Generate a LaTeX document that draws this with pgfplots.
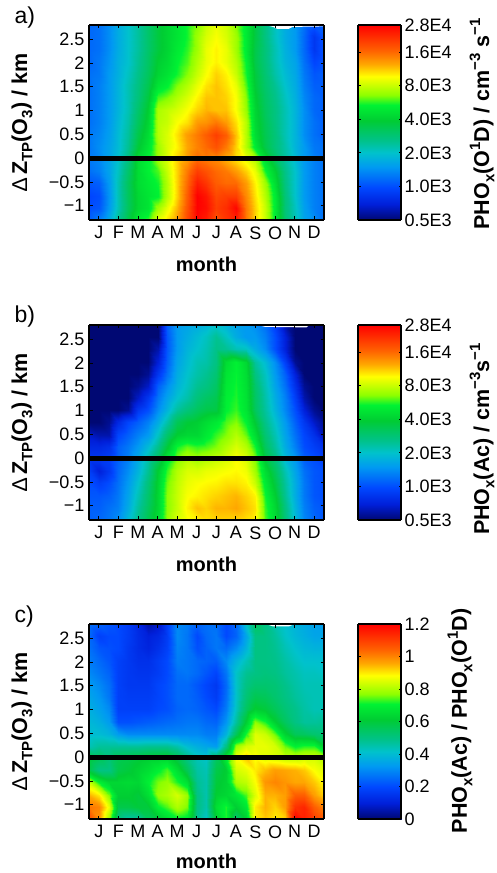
\documentclass[border=0pt]{standalone}
\usepackage{fontspec}
\setmainfont{Liberation Sans}
\usepackage{pgfplots}
\usepackage{pgfplotstable}
\pgfplotsset{compat=1.18}
% each line: one height (from -1.3 to 2.8 km), 25 values from x=0 to x=12 months, in 1E3 cm-3 s-1 (a, b) or as ratio (c)
\pgfplotstableread[row sep=\\]{
v\\
1.1\\1.3\\1.7\\2.5\\3.5\\5\\5.8\\9\\10.5\\13\\19\\27\\24\\18\\21\\24\\15\\11\\8\\5\\2.9\\2.2\\1.6\\1.4\\1.2\\
1\\1.05\\1.5\\2.2\\3.2\\4.3\\4.8\\7\\9\\12\\18\\28\\26\\20\\22\\27\\15\\11\\8\\5\\2.8\\2.1\\1.55\\1.3\\1.2\\
.95\\1\\1.45\\2.2\\3.2\\4.3\\4.8\\5.3\\7.5\\11\\17\\28\\25\\19\\20\\20\\14\\10.5\\7.5\\5\\2.8\\2\\1.5\\1.3\\1.2\\
1.05\\1.1\\1.5\\2.2\\3.2\\4.5\\5\\5.5\\7.5\\11\\16\\24\\21\\17\\16\\16\\13\\10\\7\\4.5\\2.7\\2\\1.5\\1.3\\1.2\\
1.2\\1.3\\1.6\\2.1\\3\\4.5\\5.3\\6\\8\\11\\15\\20\\18\\16\\15\\13\\11\\9\\5.5\\4\\2.6\\2\\1.5\\1.3\\1.2\\
1.25\\1.35\\1.6\\2\\2.7\\4.5\\5.3\\7\\8.5\\11\\13\\16\\15\\14\\12\\10.5\\9\\7.5\\4.5\\3.2\\2.4\\1.9\\1.5\\1.3\\1.2\\
1.25\\1.4\\1.6\\1.9\\2.5\\3.8\\4.8\\7\\8.5\\10\\12.5\\14.5\\16\\18\\15\\11\\7.5\\5\\3.5\\2.8\\2.3\\1.8\\1.5\\1.25\\1.2\\
1.25\\1.35\\1.55\\1.9\\2.4\\3.5\\4.5\\7.5\\8.5\\10.5\\13\\15\\17\\20\\17\\11.5\\7.5\\4.5\\3.4\\2.8\\2.2\\1.8\\1.4\\1.2\\1.1\\
1.2\\1.3\\1.5\\1.85\\2.3\\3.2\\4.2\\7.5\\8\\9.5\\10.5\\13\\13.5\\15\\13\\10.5\\7.5\\4.3\\3.3\\2.7\\2.2\\1.8\\1.4\\1.2\\1.1\\
1.2\\1.3\\1.5\\1.8\\2.2\\3\\4\\7.3\\7.8\\8.5\\9.5\\11\\12\\11.5\\11.5\\9.5\\6.8\\4.2\\3.2\\2.7\\2.2\\1.8\\1.4\\1.15\\1.1\\
1.2\\1.3\\1.5\\1.8\\2.2\\2.8\\3.7\\6\\6.5\\7.5\\8.5\\10\\11.5\\11.5\\11\\9.5\\6.5\\4\\3.1\\2.6\\2.1\\1.75\\1.35\\1.15\\1.1\\
1.2\\1.3\\1.5\\1.8\\2.2\\2.7\\3.4\\4.8\\5.3\\6.5\\7.5\\9\\10.5\\11.5\\10.5\\9\\6\\3.8\\3\\2.5\\2\\1.7\\1.3\\1.1\\1.1\\
1.2\\1.25\\1.5\\1.75\\2.1\\2.6\\3.2\\4.2\\4.7\\5.5\\6.5\\8\\9.5\\11\\10\\8\\5.5\\3.7\\2.9\\2.3\\1.9\\1.65\\1.25\\1.05\\1.1\\
1.15\\1.25\\1.45\\1.75\\2\\2.5\\3.1\\4\\4.4\\5.3\\6\\7.5\\9\\10\\9\\7.5\\5.3\\3.5\\2.8\\2.2\\1.8\\1.6\\1.2\\.95\\1.05\\
1.15\\1.2\\1.4\\1.7\\2\\2.4\\3\\3.7\\4.2\\5\\5.7\\7\\9\\10\\9\\7\\5\\3.5\\2.8\\2.2\\1.75\\1.5\\1.15\\.85\\1.05\\
1.15\\1.2\\1.4\\1.7\\2\\2.4\\3\\3.7\\4.2\\4.8\\5.5\\7\\8.5\\9.5\\8.5\\7\\5\\3.6\\2.7\\2.1\\1.7\\1.5\\1.15\\.85\\1.05\\
1.15\\1.2\\1.4\\1.7\\2\\2.4\\3\\3.7\\4.2\\4.8\\5.5\\6.5\\8\\9\\8.2\\6.5\\5\\3.6\\2.7\\2.1\\1.7\\1.5\\1.2\\1.05\\1.1\\
}\tabA
\pgfplotstableread[row sep=\\]{
v\\
1.1\\1.15\\1.25\\1.4\\1.9\\2.6\\3.4\\4.5\\6.8\\8.5\\9.5\\10\\10.5\\11\\11\\11\\10.5\\10\\6\\4.5\\2.8\\1.9\\1.35\\1.15\\1.05\\
1.1\\1.1\\1.2\\1.3\\1.7\\2.4\\3.2\\4.3\\6.6\\8\\10\\11.5\\11\\12\\12\\12.5\\11.5\\10.5\\5.8\\4.3\\2.7\\1.8\\1.3\\1.1\\1.05\\
1.05\\1.05\\1.1\\1.25\\1.6\\2.2\\3\\4.3\\6.6\\8\\9.5\\10\\10.5\\11\\11.5\\12\\11\\10\\5.5\\4\\2.5\\1.7\\1.25\\1.05\\1\\
1\\.9\\1\\1.2\\1.5\\2\\2.8\\4.2\\6.3\\7.8\\9\\9.5\\9.8\\10\\10.5\\10.5\\10\\8\\5\\3.6\\2.4\\1.7\\1.25\\1.05\\1\\
.9\\.7\\.85\\1.15\\1.4\\1.8\\2.5\\4\\5.8\\7.5\\8.5\\8.5\\9\\9.2\\9.5\\9.8\\9.2\\7\\4.5\\3.2\\2.2\\1.6\\1.2\\1.05\\1\\
.85\\.85\\.9\\1.1\\1.3\\1.7\\2.3\\3.2\\5\\6.5\\7.5\\7\\7.5\\8\\8.5\\9.5\\8.5\\6.5\\3.7\\2.8\\1.9\\1.5\\1.1\\1\\.9\\
.75\\.75\\.8\\1.1\\1.25\\1.5\\1.9\\2.6\\3.8\\5.5\\6.2\\5.8\\6\\6.5\\7.5\\8.5\\7.5\\5.5\\3.2\\2.4\\1.7\\1.3\\1\\.9\\.8\\
.65\\.6\\.6\\.95\\1.1\\1.3\\1.5\\2.1\\3\\4\\4.3\\4.3\\5\\5.8\\6.5\\7.5\\6.2\\4.5\\2.9\\2.2\\1.6\\1.2\\.95\\.8\\.6\\
.5\\.5\\.55\\.75\\.95\\1.1\\1.3\\1.7\\2.3\\3.3\\3.8\\4\\4.5\\5\\6\\6.5\\5.3\\3.8\\2.6\\2\\1.5\\1.1\\.85\\.65\\.55\\
.5\\.5\\.5\\.5\\.55\\.85\\1\\1.4\\1.8\\2.4\\2.8\\3.2\\3.5\\3.6\\5.3\\5.8\\4.8\\3.2\\2.4\\1.8\\1.35\\1\\.7\\.55\\.5\\
.5\\.5\\.5\\.5\\.5\\.65\\.85\\1.25\\1.6\\2\\2.3\\2.8\\3.1\\3.4\\5.2\\5.6\\4.7\\3.1\\2.3\\1.7\\1.3\\.9\\.6\\.5\\.5\\
.5\\.5\\.5\\.5\\.5\\.55\\.65\\1.1\\1.4\\1.8\\2.1\\2.5\\2.7\\3.1\\5\\5.5\\4.6\\3\\2.2\\1.6\\1.2\\.8\\.55\\.5\\.5\\
.5\\.5\\.5\\.5\\.5\\.5\\.55\\.85\\1.2\\1.7\\2\\2.3\\2.5\\2.9\\4.8\\5.4\\4.5\\2.7\\2.1\\1.5\\1.1\\.7\\.5\\.5\\.5\\
.5\\.5\\.5\\.5\\.5\\.5\\.5\\.7\\1.1\\1.6\\1.9\\2.2\\2.3\\2.7\\4.5\\5.3\\4.3\\2.4\\1.9\\1.4\\.9\\.55\\.5\\.5\\.5\\
.5\\.5\\.5\\.5\\.5\\.5\\.5\\.6\\1.05\\1.5\\1.8\\2\\2.2\\2.6\\2.5\\2.2\\2.1\\1.7\\1.4\\1\\.7\\.5\\.5\\.5\\.5\\
.5\\.5\\.5\\.5\\.5\\.5\\.5\\.5\\1.05\\1.5\\1.7\\1.9\\2.1\\2.5\\2.1\\1.7\\1.5\\1.5\\1.3\\1\\.7\\.5\\.5\\.5\\.5\\
.5\\.5\\.5\\.5\\.5\\.5\\.5\\.5\\1.1\\1.5\\1.6\\1.7\\1.8\\2\\1.8\\1.6\\1.5\\1.4\\1.2\\.9\\.6\\.5\\.5\\.5\\.5\\
}\tabB
\pgfplotstableread[row sep=\\]{
v\\
1.08\\.98\\.78\\.5\\.45\\.46\\.55\\.6\\.65\\.7\\.68\\.48\\.42\\.62\\.72\\.52\\.62\\.9\\.93\\.9\\.92\\1.2\\1.15\\1.1\\1.05\\
1.02\\1\\.86\\.58\\.58\\.6\\.6\\.7\\.74\\.8\\.76\\.5\\.45\\.66\\.72\\.62\\.68\\.9\\.95\\.92\\.97\\1.12\\1.14\\1.05\\1\\
.95\\.9\\.76\\.62\\.62\\.6\\.66\\.78\\.8\\.84\\.78\\.5\\.45\\.62\\.64\\.68\\.74\\.85\\.95\\.95\\.97\\1.05\\1.05\\.97\\.92\\
.82\\.7\\.64\\.64\\.65\\.64\\.7\\.76\\.78\\.72\\.66\\.48\\.45\\.6\\.63\\.8\\.82\\.88\\.98\\1\\.98\\.96\\.96\\.93\\.88\\
.58\\.5\\.5\\.58\\.6\\.63\\.66\\.7\\.74\\.66\\.56\\.46\\.44\\.58\\.62\\.84\\.86\\.9\\.94\\.97\\.96\\.95\\.93\\.88\\.85\\
.6\\.56\\.52\\.57\\.58\\.6\\.62\\.63\\.64\\.58\\.5\\.44\\.42\\.55\\.7\\.88\\.93\\.88\\.85\\.84\\.82\\.82\\.84\\.84\\.8\\
.44\\.47\\.47\\.47\\.47\\.47\\.48\\.48\\.48\\.45\\.4\\.37\\.35\\.33\\.5\\.78\\.84\\.86\\.86\\.84\\.75\\.7\\.72\\.72\\.62\\
.4\\.4\\.38\\.33\\.3\\.3\\.3\\.3\\.3\\.3\\.3\\.3\\.28\\.28\\.38\\.56\\.72\\.85\\.83\\.75\\.63\\.56\\.55\\.53\\.52\\
.39\\.37\\.33\\.21\\.21\\.22\\.23\\.24\\.25\\.26\\.27\\.27\\.25\\.24\\.32\\.47\\.62\\.77\\.72\\.62\\.55\\.5\\.47\\.47\\.48\\
.37\\.34\\.3\\.18\\.18\\.18\\.18\\.2\\.21\\.24\\.25\\.24\\.22\\.2\\.28\\.43\\.55\\.62\\.6\\.56\\.52\\.49\\.46\\.44\\.44\\
.35\\.32\\.27\\.18\\.17\\.17\\.17\\.19\\.21\\.25\\.25\\.23\\.2\\.17\\.26\\.42\\.52\\.57\\.56\\.53\\.5\\.47\\.45\\.44\\.44\\
.33\\.3\\.26\\.18\\.16\\.16\\.16\\.19\\.21\\.25\\.25\\.22\\.19\\.16\\.25\\.42\\.5\\.53\\.53\\.52\\.49\\.46\\.44\\.44\\.44\\
.3\\.27\\.24\\.18\\.16\\.15\\.15\\.17\\.2\\.26\\.27\\.25\\.22\\.19\\.27\\.42\\.48\\.5\\.51\\.5\\.47\\.45\\.43\\.43\\.42\\
.28\\.25\\.22\\.18\\.16\\.14\\.14\\.17\\.2\\.28\\.27\\.25\\.24\\.23\\.3\\.38\\.44\\.5\\.5\\.49\\.46\\.43\\.41\\.41\\.41\\
.26\\.22\\.21\\.2\\.16\\.13\\.11\\.14\\.18\\.29\\.27\\.21\\.24\\.27\\.25\\.3\\.38\\.5\\.5\\.48\\.44\\.41\\.39\\.38\\.38\\
.25\\.18\\.2\\.2\\.17\\.13\\.1\\.12\\.17\\.3\\.27\\.2\\.25\\.27\\.2\\.24\\.35\\.5\\.5\\.47\\.42\\.39\\.37\\.35\\.35\\
.26\\.24\\.22\\.2\\.17\\.12\\.05\\.08\\.18\\.3\\.28\\.24\\.26\\.26\\.2\\.25\\.42\\.55\\.5\\.45\\.41\\.38\\.36\\.34\\.33\\
}\tabC
\newcommand{\addxy}[1]{%
 \pgfplotstablecreatecol[create col/expr={mod(\pgfplotstablerow,25)*0.5}]{x}{#1}%
 \pgfplotstablecreatecol[create col/expr={-1.3+floor((\pgfplotstablerow+0.5)/25)*0.25625}]{y}{#1}}
\addxy{\tabA}\addxy{\tabB}\addxy{\tabC}
\newcommand{\tickf}{\fontsize{18}{20}\selectfont}
\newcommand{\labf}{\fontsize{20}{22}\selectfont\bfseries}
\newcommand{\ylabf}{\fontsize{21.5}{24}\selectfont\bfseries}
\newcommand{\cbf}{\fontsize{21.5}{24}\selectfont\bfseries}
\newcommand{\sbs}[1]{\raisebox{-0.25em}{\fontsize{15}{16}\selectfont #1}}
\newcommand{\sps}[1]{\raisebox{0.42em}{\fontsize{15}{16}\selectfont #1}}
\newcommand{\zlabel}{{\mdseries\char"2206}\,Z\sbs{TP}(O\sbs{3}) / km}
\pgfplotsset{
 colormap={phox}{rgb(0pt)=(0,0.03,0.45); rgb(80pt)=(0,0.12,0.85); rgb(165pt)=(0,0.28,1); rgb(270pt)=(0,0.6,0.95); rgb(345pt)=(0,0.76,0.8); rgb(405pt)=(0,0.76,0.55); rgb(510pt)=(0,0.8,0.2); rgb(590pt)=(0,0.95,0.2); rgb(640pt)=(0.55,1,0); rgb(736pt)=(1,1,0); rgb(800pt)=(1,0.65,0); rgb(870pt)=(1,0.38,0); rgb(1000pt)=(1,0,0)},
 panel/.style={
  scale only axis, width=235pt, height=195pt, view={0}{90},
  xmin=0, xmax=12, ymin=-1.3, ymax=2.8,
  axis on top, tick align=inside, major tick length=3.5pt,
  axis line style={line width=1.3pt}, tick style={line width=0.8pt,black},
  xtick={.5,1.5,2.5,3.5,4.5,5.5,6.5,7.5,8.5,9.5,10.5,11.5},
  xticklabels={J,F,M,A,M,J,J,A,S,O,N,D},
  ytick={-1,-.5,0,.5,1,1.5,2,2.5},
  yticklabels={−1,−0.5,0,0.5,1,1.5,2,2.5},
  tick label style={font=\tickf},
  xticklabel style={yshift=-3pt}, yticklabel style={xshift=-1pt},
  xlabel={month}, xlabel style={font=\labf, at={(axis description cs:0.5,#1)}, anchor=center},
  ylabel={\zlabel}, ylabel style={font=\ylabf, at={(axis description cs:-0.285,0.5)}, anchor=center},
  colormap name=phox,
 },
 cbar/.style={
  scale only axis, width=43pt, height=195pt, view={0}{90},
  xmin=0, xmax=1, xtick=\empty, axis on top, colormap name=phox,
  tick align=inside, major tick length=2.5pt,
  axis line style={line width=1.1pt}, tick style={line width=0.8pt,black},
  ytick pos=both, yticklabel pos=right, tick label style={font=\tickf},
 },
 map/.style={surf, shader=interp, mesh/cols=25},
}
\begin{document}
\begin{tikzpicture}
\path[use as bounding box] (0,0) rectangle (496pt,873pt);
\begin{axis}[panel=-0.23, at={(89pt,653pt)}, anchor=south west, point meta min=0, point meta max=5.807]
\addplot3[map, point meta={ln(\thisrow{v}/0.5)/ln(2)}] table[x=x,y=y,z=v]{\tabA};
\fill[white] (axis cs:9,2.8,30) -- (axis cs:9.4,2.76,30) -- (axis cs:9.6,2.72,30) -- (axis cs:10.2,2.72,30) -- (axis cs:10.4,2.76,30) -- (axis cs:12,2.77,30) -- (axis cs:12,2.8,30) -- cycle;
\addplot3[black, line width=5pt] coordinates {(0,0,30) (12,0,30)};
\end{axis}
\begin{axis}[cbar, at={(358pt,653pt)}, anchor=south west, ymin=0, ymax=5.807, point meta min=0, point meta max=5.807,
  ytick={0,1,2,3,4,5,5.807}, yticklabels={0.5E3,1.0E3,2.0E3,4.0E3,8.0E3,1.6E4,2.8E4}]
\addplot3[surf, shader=interp, mesh/cols=2, point meta=y] coordinates {(0,0,0) (1,0,0) (0,5.807,0) (1,5.807,0)};
\end{axis}
\begin{axis}[panel=-0.23, at={(89pt,353pt)}, anchor=south west, point meta min=0, point meta max=5.807]
\addplot3[map, point meta={ln(\thisrow{v}/0.5)/ln(2)}] table[x=x,y=y,z=v]{\tabB};
\fill[white] (axis cs:8.6,2.8,30) -- (axis cs:9,2.76,30) -- (axis cs:11.1,2.75,30) -- (axis cs:11.2,2.78,30) -- (axis cs:12,2.78,30) -- (axis cs:12,2.8,30) -- cycle;
\addplot3[black, line width=5pt] coordinates {(0,0,30) (12,0,30)};
\end{axis}
\begin{axis}[cbar, at={(358pt,353pt)}, anchor=south west, ymin=0, ymax=5.807, point meta min=0, point meta max=5.807,
  ytick={0,1,2,3,4,5,5.807}, yticklabels={0.5E3,1.0E3,2.0E3,4.0E3,8.0E3,1.6E4,2.8E4}]
\addplot3[surf, shader=interp, mesh/cols=2, point meta=y] coordinates {(0,0,0) (1,0,0) (0,5.807,0) (1,5.807,0)};
\end{axis}
\begin{axis}[panel=-0.215, at={(89pt,54pt)}, anchor=south west, point meta min=0, point meta max=1.2]
\addplot3[map] table[x=x,y=y,z=v]{\tabC};
\fill[white] (axis cs:9,2.8,30) -- (axis cs:9.4,2.75,30) -- (axis cs:10.2,2.75,30) -- (axis cs:10.4,2.78,30) -- (axis cs:12,2.78,30) -- (axis cs:12,2.8,30) -- cycle;
\addplot3[black, line width=5pt] coordinates {(0,0,30) (12,0,30)};
\end{axis}
\begin{axis}[cbar, at={(358pt,54pt)}, anchor=south west, ymin=0, ymax=1.2, point meta min=0, point meta max=1.2,
  ytick={0,.2,.4,.6,.8,1,1.2}, yticklabels={0,0.2,0.4,0.6,0.8,1,1.2}]
\addplot3[surf, shader=interp, mesh/cols=2, point meta=y] coordinates {(0,0,0) (1,0,0) (0,1.2,0) (1,1.2,0)};
\end{axis}
\node[anchor=west, font=\fontsize{23}{25}\selectfont] at (11pt,855pt) {a)};
\node[anchor=west, font=\fontsize{23}{25}\selectfont] at (11pt,556pt) {b)};
\node[anchor=west, font=\fontsize{23}{25}\selectfont] at (11pt,256pt) {c)};
\node[rotate=90, font=\cbf] at (482pt,749pt) {PHO\sbs{x}(O\sps{1}D) / cm\sps{−3} s\sps{−1}};
\node[rotate=90, font=\cbf] at (482pt,434pt) {PHO\sbs{x}(Ac) / cm\sps{−3}s\sps{−1}};
\node[rotate=90, font=\cbf] at (460pt,152pt) {PHO\sbs{x}(Ac) / PHO\sbs{x}(O\sps{1}D)};
\end{tikzpicture}
\end{document}
